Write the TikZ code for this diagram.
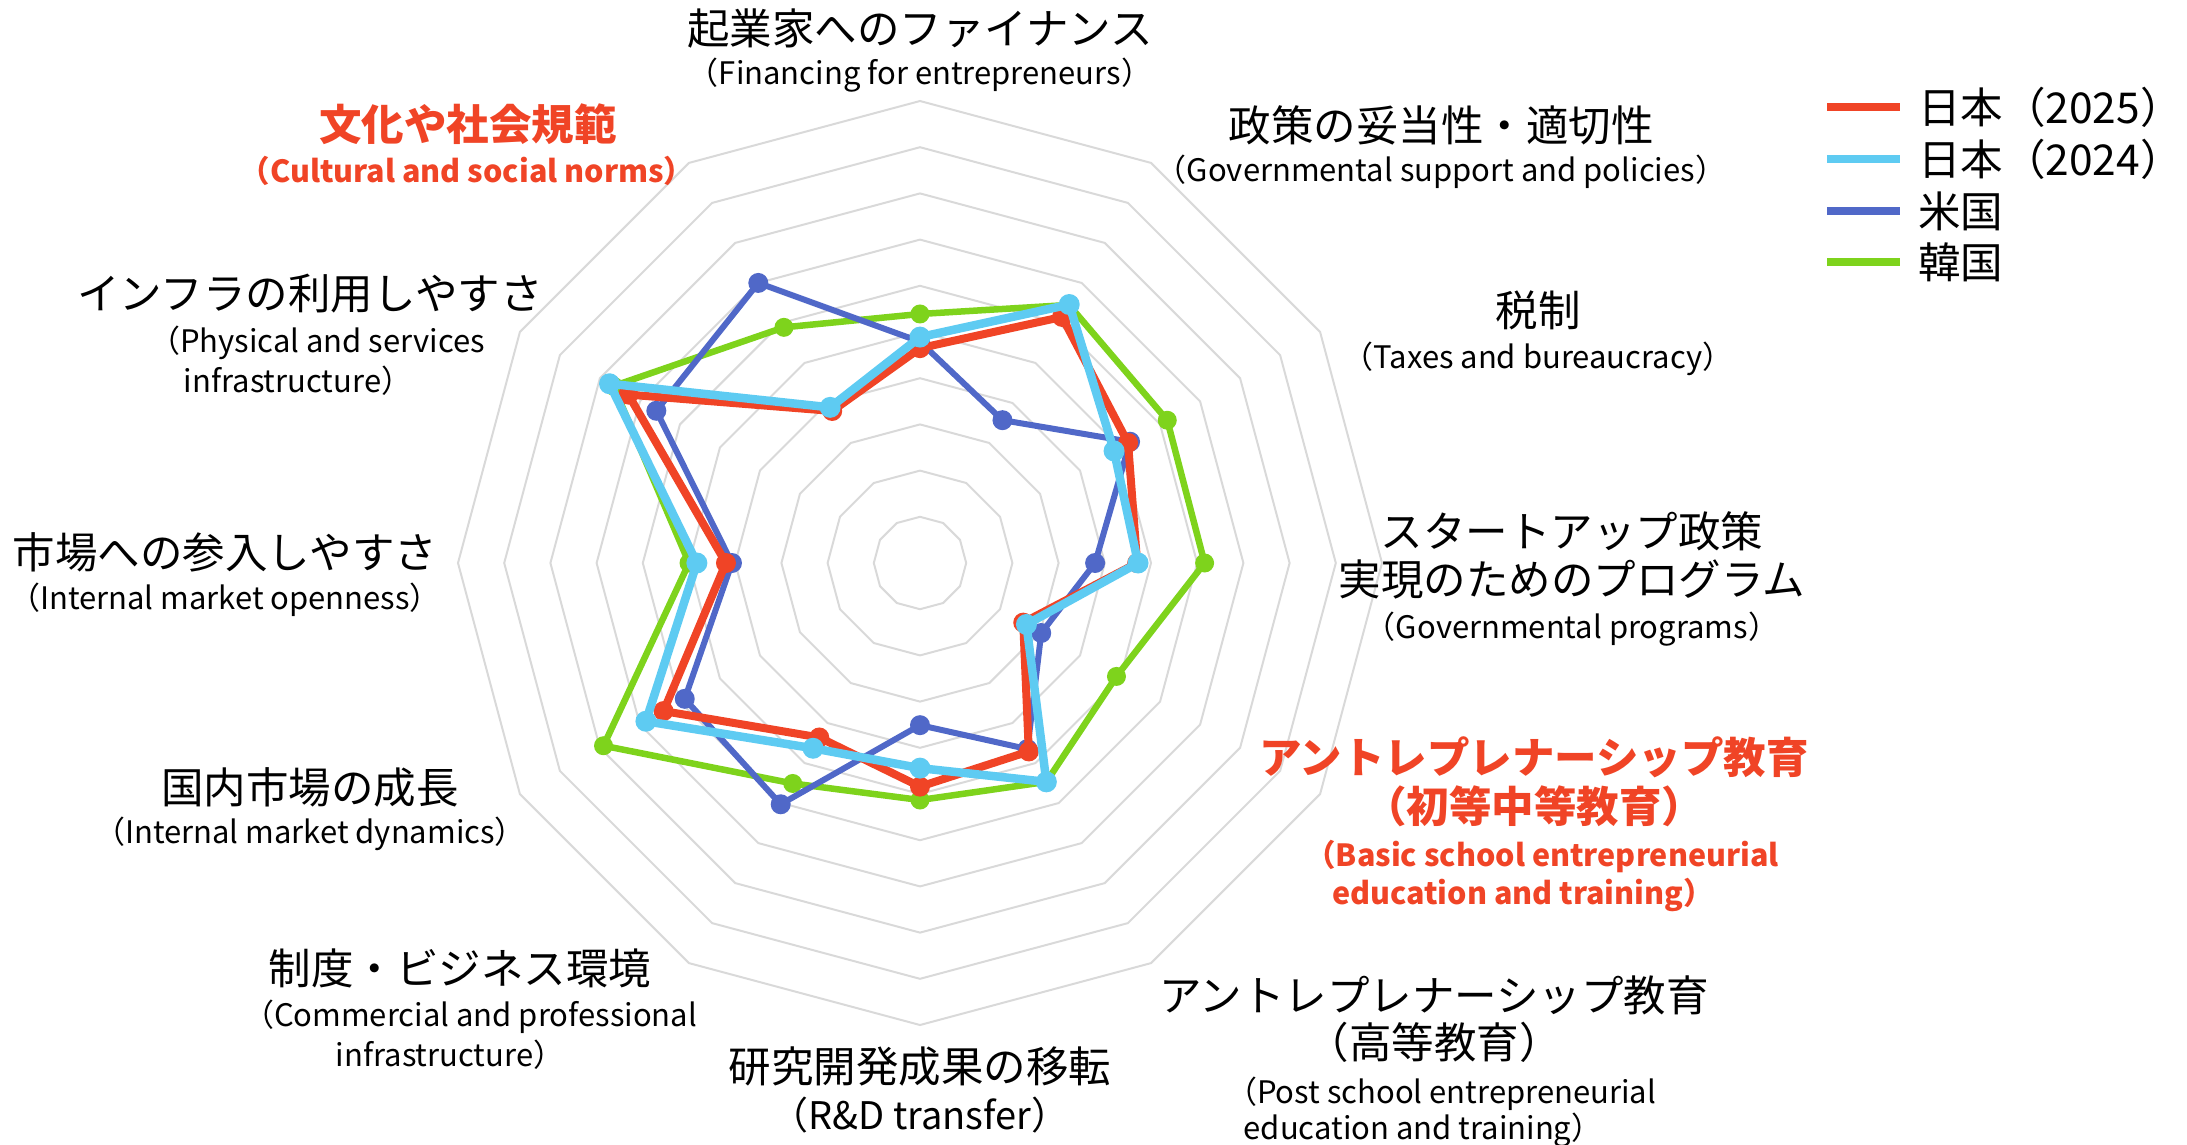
\documentclass[tikz,border=0pt]{standalone}
\usepackage{fontspec}
\setmainfont{Noto Sans CJK JP}
\definecolor{cR}{RGB}{240,68,38}
\definecolor{cC}{RGB}{94,203,242}
\definecolor{cB}{RGB}{80,104,200}
\definecolor{cG}{RGB}{126,211,28}
\definecolor{gridc}{RGB}{217,217,217}
\tikzset{
  gridline/.style={draw=gridc,line width=2pt,line join=miter},
  jp/.style={inner sep=0pt,font=\fontsize{42.5}{50}\selectfont},
  en/.style={inner sep=0pt,yshift=-3pt,font=\fontsize{31}{36}\selectfont},
  enbig/.style={inner sep=0pt,yshift=-2pt,font=\fontsize{38}{44}\selectfont},
  jpred/.style={jp,text=cR,font=\fontsize{42.5}{50}\selectfont\bfseries},
  enred/.style={en,text=cR,font=\fontsize{30.5}{36}\selectfont\bfseries},
  series/.style={line width=#1,line join=round},
  legtext/.style={inner sep=0pt,anchor=west,font=\fontsize{42.5}{50}\selectfont},
  legline/.style={line width=7.5pt}
}
\begin{document}
\begin{tikzpicture}[x=1pt,y=-1pt]
\useasboundingbox (0,0) rectangle (2187,1144);
\coordinate (O) at (920,563);
\begin{scope}[shift={(920,563)}]
  % grid rings
  \foreach \k in {1,...,10}{
    \draw[gridline] (-90:\k*46.2) \foreach \a in {-60,-30,0,30,60,90,120,150,180,210,240}{ -- (\a:\k*46.2)} -- cycle;
  }
  % series coordinates
  \foreach \v [count=\i from 0] in {5.39,6.45,6.18,6.16,4.91,5.47,5.13,5.51,7.91,5.0,7.66,5.89}
    \coordinate (G\i) at (\i*30-90:\v*46.2);
  \foreach \v [count=\i from 0] in {4.79,3.57,5.25,3.79,3.03,4.65,3.51,6.03,5.88,4.07,6.59,7.0}
    \coordinate (B\i) at (\i*30-90:\v*46.2);
  \foreach \v [count=\i from 0] in {4.65,6.15,5.2,4.7,2.58,4.71,4.84,4.36,6.41,4.2,7.29,3.8}
    \coordinate (R\i) at (\i*30-90:\v*46.2);
  \foreach \v [count=\i from 0] in {4.89,6.46,4.85,4.72,2.66,5.47,4.44,4.63,6.85,4.83,7.76,3.89}
    \coordinate (C\i) at (\i*30-90:\v*46.2);
\end{scope}
% series: green, blue, red, cyan
\draw[series=6.5pt,cG] (G0) \foreach \i in {1,...,11}{ -- (G\i)} -- cycle;
\foreach \i in {0,...,11} \fill[cG] (G\i) circle (9.5);
\draw[series=6pt,cB] (B0) \foreach \i in {1,...,11}{ -- (B\i)} -- cycle;
\foreach \i in {0,...,11} \fill[cB] (B\i) circle (10);
\draw[series=8pt,cR] (R0) \foreach \i in {1,...,11}{ -- (R\i)} -- cycle;
\foreach \i in {0,...,11} \fill[cR] (R\i) circle (10);
\draw[series=8.5pt,cC] (C0) \foreach \i in {1,...,11}{ -- (C\i)} -- cycle;
\foreach \i in {0,...,11} \fill[cC] (C\i) circle (10.5);

% labels
\node[jp] (l0a) at (920,28) {起業家へのファイナンス};
\node[en] (l0b) at (920,72) {（Financing for entrepreneurs）};
\node[jp] (l1a) at (1441,125) {政策の妥当性・適切性};
\node[en] (l1b) at (1441,169) {（Governmental support and policies）};
\node[jp] (l2a) at (1538,310) {税制};
\node[en] (l2b) at (1538,356) {（Taxes and bureaucracy）};
\node[jp] (l3a) at (1572,531) {スタートアップ政策};
\node[jp] (l3b) at (1572,579) {実現のためのプログラム};
\node[en] (l3c) at (1572,626) {（Governmental programs）};
\node[jpred] (l4a) at (1534,757) {アントレプレナーシップ教育};
\node[jpred] (l4b) at (1534,806) {（初等中等教育）};
\node[enred] (l4c) at (1542,853) {（Basic school entrepreneurial};
\node[enred] (l4d) at (1523,892) {education and training）};
\node[jp] (l5a) at (1434,995) {アントレプレナーシップ教育};
\node[jp] (l5b) at (1434,1042) {（高等教育）};
\node[en] (l5c) at (1441,1091) {（Post school entrepreneurial};
\node[en] (l5d) at (1423,1127) {education and training）};
\node[jp] (l6a) at (920,1066) {研究開発成果の移転};
\node[enbig] (l6b) at (920,1113) {（R\&D transfer）};
\node[jp] (l7a) at (460,968) {制度・ビジネス環境};
\node[en] (l7b) at (470,1014) {（Commercial and professional};
\node[en] (l7c) at (450,1052) {infrastructure）};
\node[jp] (l8a) at (310,787) {国内市場の成長};
\node[en] (l8b) at (310,831) {（Internal market dynamics）};
\node[jp] (l9a) at (225,552) {市場への参入しやすさ};
\node[en] (l9b) at (225,597) {（Internal market openness）};
\node[jp] (l10a) at (310,294) {インフラの利用しやすさ};
\node[en] (l10b) at (317,340) {（Physical and services};
\node[en] (l10c) at (298,378) {infrastructure）};
\node[jpred] (l11a) at (468,124) {文化や社会規範};
\node[enred] (l11b) at (467,168) {（Cultural and social norms）};

% legend
\coordinate (k1a) at (1827,107); \coordinate (k1b) at (1900,107);
\coordinate (k2a) at (1827,159); \coordinate (k2b) at (1900,159);
\coordinate (k3a) at (1827,211); \coordinate (k3b) at (1900,211);
\coordinate (k4a) at (1827,262); \coordinate (k4b) at (1900,262);
\draw[legline,cR] (k1a) -- (k1b);
\draw[legline,cC] (k2a) -- (k2b);
\draw[legline,cB] (k3a) -- (k3b);
\draw[legline,cG] (k4a) -- (k4b);
\node[legtext] (t1) at (1918,107) {日本（2025）};
\node[legtext] (t2) at (1918,159) {日本（2024）};
\node[legtext] (t3) at (1918,211) {米国};
\node[legtext] (t4) at (1918,262) {韓国};
\end{tikzpicture}
\end{document}
